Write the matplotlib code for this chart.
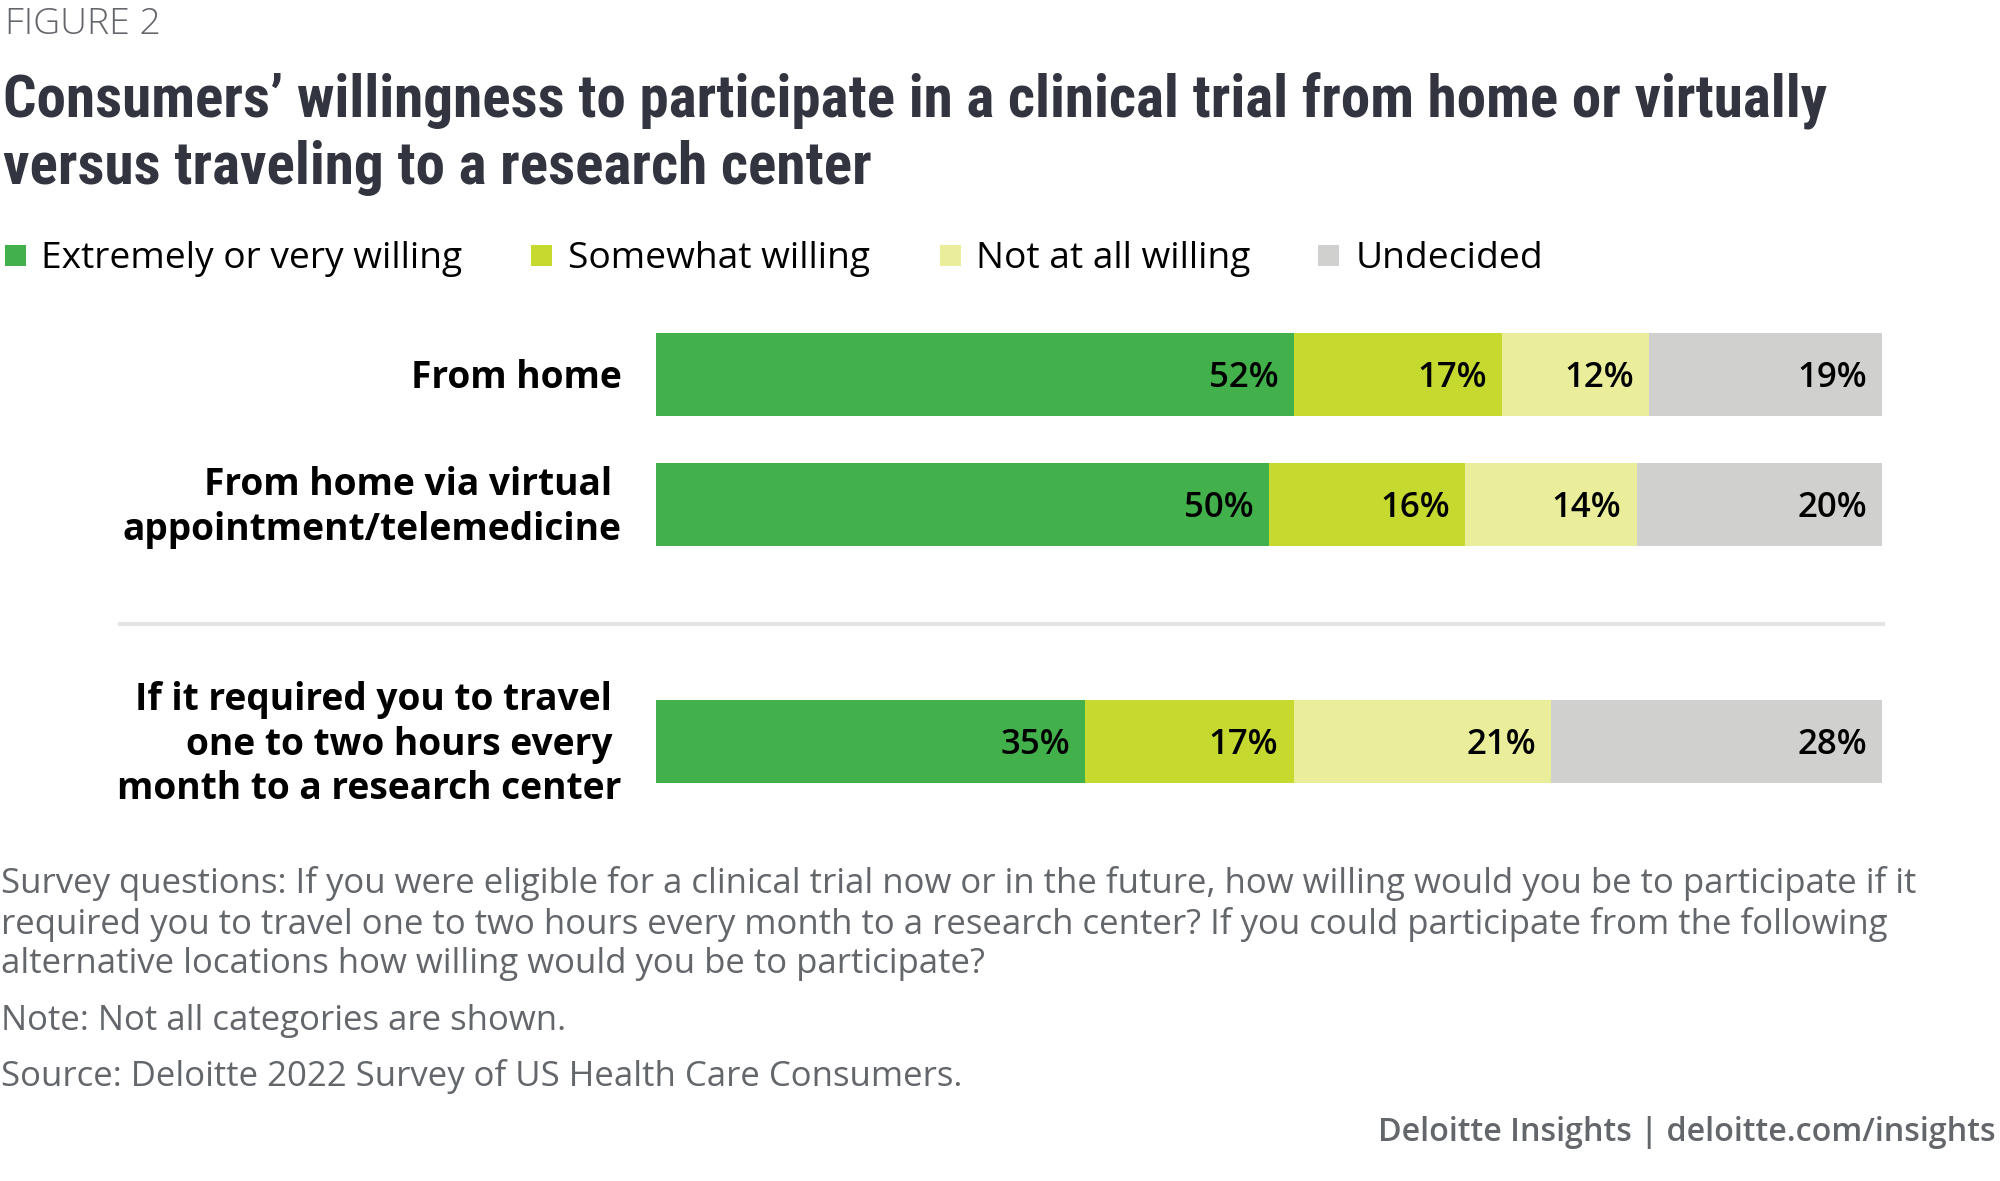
import numpy as np
import matplotlib
matplotlib.use("Agg")
import matplotlib.pyplot as plt
from matplotlib.lines import Line2D
from matplotlib.patches import Rectangle

plt.rcParams['font.family'] = ['Open Sans', 'DejaVu Sans']

# data
categories = [
    "From home",
    "From home via virtual \nappointment/telemedicine",
    "If it required you to travel \none to two hours every \nmonth to a research center",
]
series = ["Extremely or very willing", "Somewhat willing", "Not at all willing", "Undecided"]
values = [
    [52, 50, 35],
    [17, 16, 17],
    [12, 14, 21],
    [19, 20, 28],
]
colors = ["#43b14b", "#c6d92f", "#eaee9a", "#d0d0ce"]

title = ("Consumers\u2019 willingness to participate in a clinical trial from home or virtually\n"
         "versus traveling to a research center")
notes = ("Survey questions: If you were eligible for a clinical trial now or in the future, how willing would you be to participate if it\n"
         "required you to travel one to two hours every month to a research center? If you could participate from the following\n"
         "alternative locations how willing would you be to participate?")
note2 = "Note: Not all categories are shown."
source = "Source: Deloitte 2022 Survey of US Health Care Consumers."
credit = "Deloitte Insights | deloitte.com/insights"

W, H = 2000, 1181
fig = plt.figure(figsize=(W / 100, H / 100), dpi=100)

ypos = np.array([0, 1, 2.823])
bh = 0.638
ax = fig.add_axes([656 / W, 1 - 783 / H, 1226 / W, 450 / H])

left = np.zeros(len(categories))
for vals, col in zip(values, colors):
    vals = np.array(vals, dtype=float)
    ax.barh(ypos, vals, left=left, height=bh, color=col, edgecolor="none")
    for y, l, v in zip(ypos, left, vals):
        end = min(l + v, 100)
        ax.text(end - 1.25, y + 0.03, f"{int(v)}%", ha="right", va="center",
                fontsize=25, fontweight="semibold", color="#000000")
    left += vals

ax.set_xlim(0, 100)
ax.set_ylim(ypos[-1] + bh / 2, -bh / 2)
ax.axis("off")

for y, c in zip(ypos, categories):
    ax.text(-2.8, y + 0.025, c, ha="right", va="center", fontsize=26.7,
            fontweight="bold", color="#000000", linespacing=1.23)

# separator
fig.add_artist(Line2D([120 / W, 1883 / W], [1 - 624 / H] * 2, color="#e5e5e5", lw=3))

# header
fig.text(5 / W, 1 - 24 / H, "FIGURE 2", fontsize=26.9, fontweight="light", color="#63666a",
         va="center", ha="left")
fig.text(3 / W, 1 - 134 / H, title, fontsize=42.6, fontweight="bold", color="#32343f",
         va="center", ha="left", linespacing=1.26, fontstretch="condensed",
         family=["Roboto Condensed", "Noto Sans Condensed", "Open Sans Condensed",
                 "DejaVu Sans Condensed", "DejaVu Sans"])

# legend
leg_sq = [5, 531, 940, 1318]
leg_tx = [41, 568, 976, 1356]
for name, col, sx, tx in zip(series, colors, leg_sq, leg_tx):
    fig.add_artist(Rectangle((sx / W, 1 - 266 / H), 21 / W, 21 / H, color=col, lw=0))
    fig.text(tx / W, 1 - 259 / H, name, fontsize=26.7, color="#000000", va="center", ha="left")

# footer
fig.text(1 / W, 1 - 923.5 / H, notes, fontsize=25, color="#63666a", va="center", ha="left",
         linespacing=1.22)
fig.text(1 / W, 1 - 1020.5 / H, note2, fontsize=25, color="#63666a", va="center", ha="left")
fig.text(1 / W, 1 - 1076.5 / H, source, fontsize=25, color="#63666a", va="center", ha="left")
fig.text(1996 / W, 1 - 1132.5 / H, credit, fontsize=23.2, fontweight="semibold", color="#63666a",
         va="center", ha="right")

fig.savefig("out.png", dpi=100, facecolor="white")
